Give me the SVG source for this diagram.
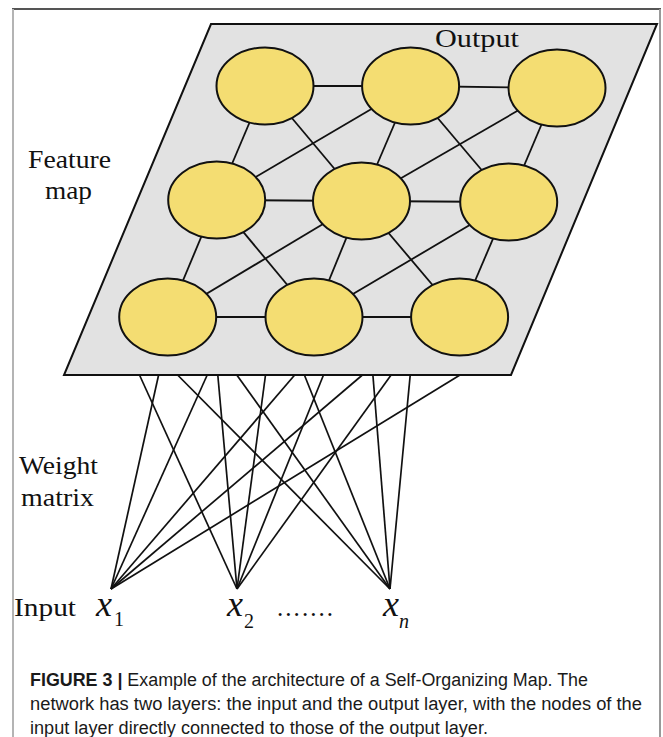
<svg xmlns="http://www.w3.org/2000/svg" width="663" height="737" viewBox="0 0 663 737">
<style>
.frame-top{stroke:#555;stroke-width:2;fill:none}
.frame-side{stroke:#b4b4b4;stroke-width:2;fill:none}
.plane{fill:#e2e2e2;stroke:#111;stroke-width:2}
.node{fill:#f4dd72;stroke:#111;stroke-width:2}
.edge{stroke:#111;stroke-width:1.8;fill:none}
.w{stroke:#111;stroke-width:1.7;fill:none}
.lbl{font-family:"Liberation Serif","Times New Roman",serif;font-size:25px;fill:#111}
.var{font-family:"Liberation Serif","Times New Roman",serif;font-style:italic;font-size:36px;fill:#111}
.sub{font-family:"Liberation Serif","Times New Roman",serif;font-size:20px;fill:#111}
.cap{font-family:"Liberation Sans",Arial,sans-serif;font-size:18px;fill:#1a1a1a}
</style>
<rect x="0" y="0" width="663" height="737" fill="#fff"/>
<g id="frame">
<line class="frame-top" x1="12" y1="9" x2="661" y2="9"/>
<line class="frame-side" x1="13" y1="9" x2="13" y2="737"/>
<line class="frame-side" x1="660" y1="9" x2="660" y2="737" style="stroke:#999"/>
</g>
<g id="feature-map">
<polygon class="plane" points="211,24 657,24 511,375 64,375"/>
</g>
<g id="connectors">
<g id="map-edges">
<line class="edge" x1="265" y1="86" x2="410.6" y2="86"/>
<line class="edge" x1="410.6" y1="86" x2="557" y2="88"/>
<line class="edge" x1="216.7" y1="200" x2="361.5" y2="201"/>
<line class="edge" x1="361.5" y1="201" x2="508.7" y2="202"/>
<line class="edge" x1="167.7" y1="317" x2="314" y2="317"/>
<line class="edge" x1="314" y1="317" x2="459.6" y2="317"/>
<line class="edge" x1="265" y1="86" x2="216.7" y2="200"/>
<line class="edge" x1="410.6" y1="86" x2="361.5" y2="201"/>
<line class="edge" x1="557" y1="88" x2="508.7" y2="202"/>
<line class="edge" x1="216.7" y1="200" x2="167.7" y2="317"/>
<line class="edge" x1="361.5" y1="201" x2="314" y2="317"/>
<line class="edge" x1="508.7" y1="202" x2="459.6" y2="317"/>
<line class="edge" x1="265" y1="86" x2="361.5" y2="201"/>
<line class="edge" x1="410.6" y1="86" x2="216.7" y2="200"/>
<line class="edge" x1="410.6" y1="86" x2="508.7" y2="202"/>
<line class="edge" x1="557" y1="88" x2="361.5" y2="201"/>
<line class="edge" x1="216.7" y1="200" x2="314" y2="317"/>
<line class="edge" x1="361.5" y1="201" x2="167.7" y2="317"/>
<line class="edge" x1="361.5" y1="201" x2="459.6" y2="317"/>
<line class="edge" x1="508.7" y1="202" x2="314" y2="317"/>
</g>
<g id="weights">
<line class="w" x1="111" y1="589" x2="158.6" y2="375"/>
<line class="w" x1="111" y1="589" x2="207.2" y2="375"/>
<line class="w" x1="111" y1="589" x2="294.7" y2="375"/>
<line class="w" x1="111" y1="589" x2="362.4" y2="375"/>
<line class="w" x1="111" y1="589" x2="460" y2="375"/>
<line class="w" x1="237" y1="589" x2="139.5" y2="375"/>
<line class="w" x1="237" y1="589" x2="217.8" y2="375"/>
<line class="w" x1="237" y1="589" x2="265.5" y2="375"/>
<line class="w" x1="237" y1="589" x2="323.5" y2="375"/>
<line class="w" x1="237" y1="589" x2="391.1" y2="375"/>
<line class="w" x1="390" y1="589" x2="177.6" y2="375"/>
<line class="w" x1="390" y1="589" x2="236.8" y2="375"/>
<line class="w" x1="390" y1="589" x2="304.4" y2="375"/>
<line class="w" x1="390" y1="589" x2="372.9" y2="375"/>
<line class="w" x1="390" y1="589" x2="410.2" y2="375"/>
</g>
</g>
<g id="n11"><ellipse class="node" cx="265" cy="86" rx="48.5" ry="38.5"/></g>
<g id="n12"><ellipse class="node" cx="410.6" cy="86" rx="48.5" ry="38.5"/></g>
<g id="n13"><ellipse class="node" cx="557" cy="88" rx="48.5" ry="38.5"/></g>
<g id="n21"><ellipse class="node" cx="216.7" cy="200" rx="48.5" ry="38.5"/></g>
<g id="n22"><ellipse class="node" cx="361.5" cy="201" rx="48.5" ry="38.5"/></g>
<g id="n23"><ellipse class="node" cx="508.7" cy="202" rx="48.5" ry="38.5"/></g>
<g id="n31"><ellipse class="node" cx="167.7" cy="317" rx="48.5" ry="38.5"/></g>
<g id="n32"><ellipse class="node" cx="314" cy="317" rx="48.5" ry="38.5"/></g>
<g id="n33"><ellipse class="node" cx="459.6" cy="317" rx="48.5" ry="38.5"/></g>
<g id="labels">
<text class="lbl" x="435" y="47" textLength="84" lengthAdjust="spacingAndGlyphs">Output</text>
<text class="lbl" x="28" y="168" textLength="83" lengthAdjust="spacingAndGlyphs">Feature</text>
<text class="lbl" x="45" y="199" textLength="47" lengthAdjust="spacingAndGlyphs">map</text>
<text class="lbl" x="19" y="474" textLength="79" lengthAdjust="spacingAndGlyphs">Weight</text>
<text class="lbl" x="21" y="506" textLength="73" lengthAdjust="spacingAndGlyphs">matrix</text>
<text class="lbl" x="14" y="616" textLength="62" lengthAdjust="spacingAndGlyphs">Input</text>
</g>
<g id="inputs">
<g id="x1"><text class="var" x="96" y="616">x</text><text class="sub" x="114" y="626">1</text></g>
<g id="x2"><text class="var" x="227" y="616">x</text><text class="sub" x="244" y="628">2</text></g>
<text class="lbl" x="277" y="616" textLength="56" lengthAdjust="spacing">.......</text>
<g id="xn"><text class="var" x="383" y="616">x</text><text class="sub" x="399" y="628" style="font-style:italic">n</text></g>
</g>
<g id="caption">
<text class="cap" x="30" y="686" textLength="558" lengthAdjust="spacingAndGlyphs"><tspan font-weight="bold">FIGURE 3 |</tspan> Example of the architecture of a Self-Organizing Map. The</text>
<text class="cap" x="30" y="710" textLength="612" lengthAdjust="spacingAndGlyphs">network has two layers: the input and the output layer, with the nodes of the</text>
<text class="cap" x="30" y="734" textLength="458" lengthAdjust="spacingAndGlyphs">input layer directly connected to those of the output layer.</text>
</g>
</svg>
